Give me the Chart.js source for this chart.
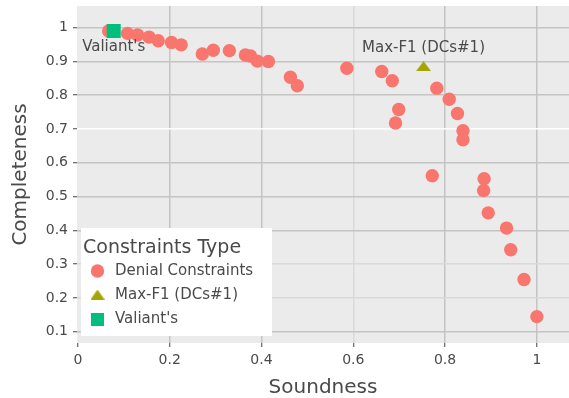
<!DOCTYPE html>
<html>
<head>
<meta charset="utf-8">
<script src="https://cdn.jsdelivr.net/npm/chart.js@4/dist/chart.umd.min.js"></script>
<style>
  html, body { margin: 0; padding: 0; background: #ffffff; }
  #wrap { width: 569px; height: 398px; }
</style>
</head>
<body>
<div id="wrap"><canvas id="chart" width="569" height="398"></canvas></div>
<script>
// Denial constraints: soundness / completeness pairs
const dcSoundness = [0.067, 0.108, 0.130, 0.155, 0.175, 0.204, 0.225, 0.271, 0.295, 0.330,
  0.365, 0.376, 0.391, 0.415, 0.463, 0.478, 0.586, 0.662, 0.685, 0.699,
  0.692, 0.782, 0.809, 0.827, 0.839, 0.839, 0.772, 0.885, 0.884, 0.894,
  0.934, 0.943, 0.972, 1.000];
const dcCompleteness = [0.990, 0.983, 0.978, 0.972, 0.961, 0.956, 0.949, 0.922, 0.933, 0.932,
  0.919, 0.916, 0.901, 0.900, 0.853, 0.828, 0.880, 0.870, 0.843, 0.758,
  0.718, 0.821, 0.788, 0.746, 0.695, 0.668, 0.562, 0.553, 0.518, 0.452,
  0.407, 0.343, 0.255, 0.145];

// Highlighted configurations
const maxF1Soundness = [0.753];
const maxF1Completeness = [0.886];
const valiantSoundness = [0.078];
const valiantCompleteness = [0.990];

// Series names and axis ticks
const seriesNames = ['Denial Constraints', 'Max-F1 (DCs#1)', "Valiant's"];
const legendTitle = 'Constraints Type';
const xTicks = [0, 0.2, 0.4, 0.6, 0.8, 1];
const yTicks = [0.1, 0.2, 0.3, 0.4, 0.5, 0.6, 0.7, 0.8, 0.9, 1];

const COLORS = { dc: '#F8766D', maxf1: '#A3A500', valiant: '#00BF7D' };
const TEXT = '#4a4a4a';
const FONT = "'DejaVu Sans', Verdana, sans-serif";

function pairs(xs, ys) { return xs.map((x, i) => ({ x: x, y: ys[i] })); }

// flat ggplot-style triangle marker
function triangleMarker(w, h, color) {
  const c = document.createElement('canvas');
  c.width = w; c.height = h;
  const g = c.getContext('2d');
  g.fillStyle = color;
  g.beginPath();
  g.moveTo(w / 2, 0);
  g.lineTo(w, h);
  g.lineTo(0, h);
  g.closePath();
  g.fill();
  return c;
}
const triMarker = triangleMarker(15, 10, COLORS.maxf1);
const triLegend = triangleMarker(14, 10, COLORS.maxf1);

// grey panel behind the plot
const panelBg = {
  id: 'panelBg',
  beforeDraw(chart) {
    const { ctx, chartArea: a } = chart;
    ctx.save();
    ctx.fillStyle = '#EBEBEB';
    ctx.fillRect(a.left, a.top, a.right - a.left, a.bottom - a.top);
    ctx.restore();
  }
};

// text labels next to the highlighted points
const pointLabels = {
  id: 'pointLabels',
  afterDatasetsDraw(chart) {
    const { ctx } = chart;
    ctx.save();
    ctx.font = '15px ' + FONT;
    ctx.fillStyle = TEXT;
    ctx.textAlign = 'center';
    ctx.textBaseline = 'middle';
    const m = chart.getDatasetMeta(1).data[0];
    ctx.fillText(seriesNames[1], m.x, m.y - 18);
    const v = chart.getDatasetMeta(2).data[0];
    ctx.fillText(seriesNames[2], v.x, v.y + 16);
    ctx.restore();
  }
};

// legend box drawn inside the panel
const insetLegend = {
  id: 'insetLegend',
  afterDraw(chart) {
    const { ctx } = chart;
    const box = { x: 81, y: 228, w: 191, h: 108 };
    ctx.save();
    ctx.fillStyle = '#ffffff';
    ctx.fillRect(box.x, box.y, box.w, box.h);
    ctx.fillStyle = TEXT;
    ctx.textBaseline = 'middle';
    ctx.textAlign = 'left';
    ctx.font = '19px ' + FONT;
    ctx.fillText(legendTitle, 83, 248);
    ctx.font = '15px ' + FONT;
    const rows = [271, 295, 319.5];
    const sx = 97.5;
    chart.data.datasets.forEach((ds, i) => {
      const y = rows[i];
      ctx.fillStyle = ds.backgroundColor;
      if (i === 0) {
        ctx.beginPath();
        ctx.arc(sx, y, 6.7, 0, Math.PI * 2);
        ctx.fill();
      } else if (i === 1) {
        ctx.drawImage(triLegend, sx - 7, y - 5.5);
      } else {
        ctx.fillRect(sx - 6.5, y - 6.5, 13, 13);
      }
      ctx.fillStyle = TEXT;
      ctx.fillText(ds.label, 115, y);
    });
    ctx.restore();
  }
};

const xGrid = { 0: 'rgba(0,0,0,0)', 0.6: '#dadada' };
const yGrid = { 0.7: '#ffffff', 0.3: '#d9d9d9', 0.2: '#d9d9d9' };
const GRID = '#c4c4c4';
const keyOf = v => Math.round(v * 10) / 10;

// fixed axis bands so the panel spans the same area every time
function fixBand(prop, size) {
  return s => {
    s[prop] = size;
    s.paddingTop = 0; s.paddingBottom = 0;
    s.paddingLeft = 0; s.paddingRight = 0;
  };
}

new Chart(document.getElementById('chart'), {
  type: 'scatter',
  data: {
    datasets: [
      {
        label: seriesNames[0],
        data: pairs(dcSoundness, dcCompleteness),
        backgroundColor: COLORS.dc,
        borderWidth: 0,
        pointRadius: 6.7,
        pointHoverRadius: 6.7,
        order: 3
      },
      {
        label: seriesNames[1],
        data: pairs(maxF1Soundness, maxF1Completeness),
        backgroundColor: COLORS.maxf1,
        pointStyle: triMarker,
        borderWidth: 0,
        pointRadius: 7,
        order: 2
      },
      {
        label: seriesNames[2],
        data: pairs(valiantSoundness, valiantCompleteness),
        backgroundColor: COLORS.valiant,
        pointStyle: 'rect',
        borderWidth: 0,
        pointRadius: 9.9,
        pointHoverRadius: 9.9,
        order: 1
      }
    ]
  },
  options: {
    responsive: false,
    animation: false,
    events: [],
    layout: { autoPadding: false, padding: { top: 6, right: 0, left: 0, bottom: 0 } },
    plugins: {
      legend: { display: false },
      tooltip: { enabled: false }
    },
    scales: {
      x: {
        type: 'linear',
        min: -0.002,
        max: 1.07,
        afterBuildTicks: s => { s.ticks = xTicks.map(v => ({ value: v })); },
        afterFit: fixBand('height', 55),
        border: { display: false },
        grid: {
          color: c => xGrid[keyOf(c.tick.value)] || GRID,
          lineWidth: 1.5,
          tickColor: '#444444',
          tickLength: 4,
          tickWidth: 1
        },
        ticks: {
          color: TEXT,
          font: { family: FONT, size: 14 },
          padding: 5,
          maxRotation: 0,
          callback: v => String(v)
        },
        title: {
          display: true,
          text: 'Soundness',
          color: TEXT,
          font: { family: FONT, size: 20, lineHeight: 1 },
          padding: { top: 0, bottom: 0 }
        }
      },
      y: {
        type: 'linear',
        min: 0.067,
        max: 1.064,
        afterBuildTicks: s => { s.ticks = yTicks.map(v => ({ value: v })); },
        afterFit: fixBand('width', 77),
        border: { display: false },
        grid: {
          color: c => yGrid[keyOf(c.tick.value)] || GRID,
          lineWidth: 1.5,
          tickColor: '#444444',
          tickLength: 4,
          tickWidth: 1
        },
        ticks: {
          color: TEXT,
          font: { family: FONT, size: 14 },
          padding: 5,
          callback: v => String(v)
        },
        title: {
          display: true,
          text: 'Completeness',
          color: TEXT,
          font: { family: FONT, size: 20 },
          padding: { top: 9, bottom: 0 }
        }
      }
    }
  },
  plugins: [panelBg, pointLabels, insetLegend]
});
</script>
</body>
</html>
